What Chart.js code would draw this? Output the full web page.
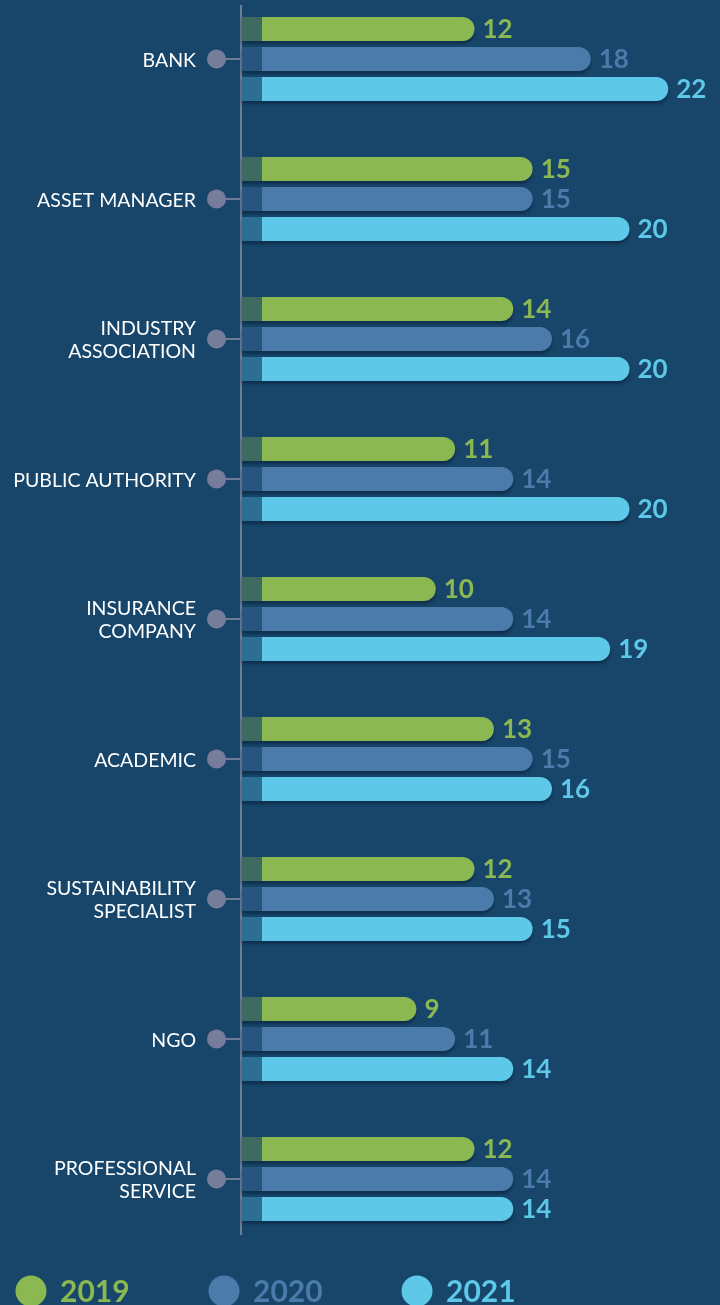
<!DOCTYPE html>
<html>
<head>
<meta charset="utf-8">
<script src="https://cdn.jsdelivr.net/npm/chart.js@4"></script>
<style>
  html, body { margin: 0; padding: 0; background: #17466a; }
  canvas { display: block; }
</style>
</head>
<body>
<canvas id="bar-chart" width="720" height="1305"></canvas>
<script>
var categories = [
  "BANK", "ASSET MANAGER", ["INDUSTRY", "ASSOCIATION"], "PUBLIC AUTHORITY",
  ["INSURANCE", "COMPANY"], "ACADEMIC", ["SUSTAINABILITY", "SPECIALIST"], "NGO",
  ["PROFESSIONAL", "SERVICE"]
];
var years = ["2019", "2020", "2021"];
var values2019 = [12, 15, 14, 11, 10, 13, 12, 9, 12];
var values2020 = [18, 15, 16, 14, 14, 15, 13, 11, 14];
var values2021 = [22, 20, 20, 20, 19, 16, 15, 14, 14];
var colors = ["#8cb852", "#4a7bab", "#5dc8e7"];
var darkColors = ["#3d6b5f", "#28557f", "#2c6f92"];

var axisColor = "#6e7b99";
var dotColor = "#767d9b";

// axis line, connectors, dots and category names
var sidePlugin = {
  id: "side",
  beforeDatasetsDraw: function (chart) {
    var ctx = chart.ctx, area = chart.chartArea, y = chart.scales.y;
    ctx.save();
    ctx.strokeStyle = axisColor;
    ctx.lineWidth = 2;
    ctx.beginPath();
    ctx.moveTo(area.left - 1, area.top - 54);
    ctx.lineTo(area.left - 1, area.bottom + 56);
    ctx.stroke();
    categories.forEach(function (name, i) {
      var cy = y.getPixelForValue(i);
      ctx.beginPath();
      ctx.moveTo(area.left - 26, cy);
      ctx.lineTo(area.left - 1, cy);
      ctx.stroke();
      ctx.fillStyle = dotColor;
      ctx.beginPath();
      ctx.arc(area.left - 25.5, cy, 9.5, 0, Math.PI * 2);
      ctx.fill();
      var lines = Array.isArray(name) ? name : [name];
      ctx.fillStyle = "#ffffff";
      ctx.font = "19.5px Lato";
      ctx.textAlign = "right";
      ctx.textBaseline = "middle";
      lines.forEach(function (line, k) {
        ctx.fillText(line, area.left - 46, cy + 1.5 + (k - (lines.length - 1) / 2) * 23);
      });
    });
    ctx.restore();
  },
  beforeDatasetDraw: function (chart) {
    var ctx = chart.ctx;
    ctx.save();
    ctx.shadowColor = "rgba(8, 30, 55, 0.55)";
    ctx.shadowBlur = 3;
    ctx.shadowOffsetY = 3;
  },
  afterDatasetDraw: function (chart, args) {
    var ctx = chart.ctx;
    ctx.restore();
    // darker start of each bar and the value label
    ctx.save();
    var i = args.index;
    args.meta.data.forEach(function (el, j) {
      ctx.fillStyle = darkColors[i];
      ctx.fillRect(el.base, el.y - el.height / 2, 20, el.height);
      ctx.fillStyle = colors[i];
      ctx.font = "bold 26px Lato";
      ctx.textAlign = "left";
      ctx.textBaseline = "middle";
      ctx.fillText(chart.data.datasets[i].data[j], el.x + 8, el.y + 1);
    });
    ctx.restore();
  },
  afterDraw: function (chart) {
    var ctx = chart.ctx;
    ctx.save();
    chart.data.datasets.forEach(function (ds, i) {
      var cx = 31 + i * 193;
      ctx.fillStyle = colors[i];
      ctx.beginPath();
      ctx.arc(cx, 1291, 15.5, 0, Math.PI * 2);
      ctx.fill();
      ctx.font = "bold 30px Lato";
      ctx.textAlign = "left";
      ctx.textBaseline = "alphabetic";
      ctx.fillText(ds.label, cx + 29, 1302);
    });
    ctx.restore();
  }
};

new Chart(document.getElementById("bar-chart"), {
  type: "bar",
  data: {
    labels: categories,
    datasets: [
      { label: years[0], data: values2019, backgroundColor: colors[0] },
      { label: years[1], data: values2020, backgroundColor: colors[1] },
      { label: years[2], data: values2021, backgroundColor: colors[2] }
    ]
  },
  options: {
    indexAxis: "y",
    responsive: false,
    animation: false,
    devicePixelRatio: 1,
    layout: { padding: { left: 242, right: 13, top: 59, bottom: 126 } },
    datasets: {
      bar: {
        categoryPercentage: 90 / 140,
        barPercentage: 0.8,
        borderRadius: 12,
        borderSkipped: "start",
        clip: false
      }
    },
    scales: {
      x: { min: 0, max: 24, display: false },
      y: { type: "category", offset: false, display: false }
    },
    plugins: {
      legend: { display: false },
      tooltip: { enabled: false }
    }
  },
  plugins: [sidePlugin]
});
</script>
</body>
</html>
